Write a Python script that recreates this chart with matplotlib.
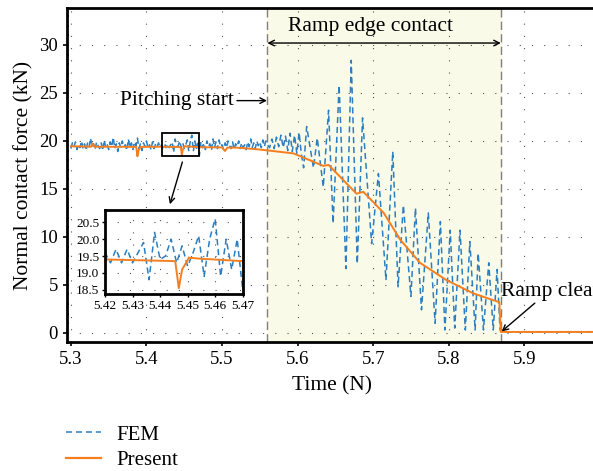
import numpy as np
import matplotlib
matplotlib.use("Agg")
import matplotlib.pyplot as plt
from matplotlib.patches import Rectangle
from matplotlib.lines import Line2D

plt.rcParams['font.family'] = ['Liberation Serif', 'DejaVu Serif']

# FEM signal before the ramp: samples every 0.002 s from 5.300 to 5.560
fem_flat_start = 5.300
fem_flat_step = 0.002
fem_flat_v = [
    19.2, 19.8, 19.4, 19.9, 19.1, 19.6, 19.3, 20.0, 19.2, 19.7,
    19.0, 19.8, 19.4, 20.3, 19.3, 19.7, 19.1, 19.9, 19.5, 19.2,
    19.8, 19.0, 20.1, 19.3, 19.6, 19.1, 19.9, 19.4, 20.4, 19.2,
    19.7, 18.9, 19.8, 19.3, 20.0, 19.4, 19.6, 19.0, 20.2, 19.3,
    19.8, 19.1, 19.9, 19.5, 20.3, 19.2, 19.7, 19.0, 19.8, 19.4,
    20.0, 19.3, 19.6, 19.1, 19.9, 19.2, 19.7, 19.4, 19.8, 19.3,
    19.6, 19.3, 19.7, 19.3, 19.7, 19.3, 19.6, 19.9, 18.8, 20.2,
    19.4, 19.5, 20.0, 19.3, 19.8, 19.2, 19.6, 20.1, 18.9, 20.0,
    20.6, 18.9, 20.0, 19.1, 20.0, 18.5,
    19.9, 19.3, 19.8, 19.1, 20.0, 19.4, 19.7, 19.0, 20.2, 19.3,
    19.9, 19.2, 20.1, 19.4, 19.6, 19.1, 19.8, 19.3, 20.0, 19.5,
    19.2, 19.9, 19.1, 19.7, 19.4, 20.0, 19.2, 19.8, 19.3, 19.6,
    19.1, 19.9, 19.4, 20.2, 19.3, 19.8, 19.2, 20.0, 19.5, 19.9,
    19.3, 20.1, 19.4, 20.0, 19.6,
]

# FEM peaks / troughs during ramp edge contact
fem_ramp_t = [5.563, 5.566, 5.569, 5.572, 5.575, 5.578, 5.581, 5.584, 5.587, 5.590,
              5.593, 5.596, 5.599, 5.602, 5.605, 5.608, 5.612, 5.621, 5.626, 5.634,
              5.641, 5.647, 5.655, 5.664, 5.671, 5.679, 5.686, 5.698, 5.707, 5.717,
              5.726, 5.733, 5.740, 5.750, 5.756, 5.764, 5.773, 5.782, 5.789, 5.795,
              5.802, 5.808, 5.815, 5.822, 5.828, 5.835, 5.839, 5.846, 5.853, 5.859,
              5.864, 5.868, 5.870, 5.990]
fem_ramp_v = [19.3, 20.2, 19.2, 20.4, 19.4, 20.6, 19.3, 20.5, 19.0, 20.8,
              18.9, 20.6, 18.7, 20.9, 18.6, 17.2, 21.5, 17.2, 20.3, 15.2,
              23.2, 11.4, 25.8, 6.7, 28.4, 7.2, 22.4, 9.3, 16.6, 5.5,
              18.9, 4.8, 13.3, 3.8, 13.0, 2.4, 12.5, 1.0, 11.6, 0.3,
              10.7, 0.5, 10.7, 0.3, 9.5, 0.3, 8.3, 0.3, 7.3, 0.3,
              6.6, 0.3, 0.1, 0.1]

# Present model
present_t = [5.300, 5.327, 5.328, 5.331, 5.3865, 5.388, 5.3895, 5.392, 5.420, 5.4455,
             5.4468, 5.448, 5.4505, 5.455, 5.470, 5.500, 5.504, 5.507, 5.520, 5.5505,
             5.5946, 5.634, 5.641, 5.678, 5.687, 5.714, 5.736, 5.762, 5.797, 5.833,
             5.867, 5.869, 5.990]
present_v = [19.45, 19.4, 19.75, 19.4, 19.38, 18.4, 19.0, 19.38, 19.4, 19.35,
             18.55, 19.1, 19.45, 19.42, 19.35, 19.32, 18.95, 19.3, 19.3, 19.1,
             18.7, 17.4, 17.5, 14.5, 14.7, 12.5, 9.7, 7.3, 5.5, 4.1,
             3.2, 0.1, 0.1]

ramp_start = 5.56
ramp_end = 5.869

fem_t = list(fem_flat_start + fem_flat_step * np.arange(len(fem_flat_v))) + fem_ramp_t
fem_v = fem_flat_v + fem_ramp_v

blue = '#2b7fc1'
orange = '#f57f20'
dash = (0, (4, 2.5))
grid_kw = dict(color='#555555', linestyle=(0, (1, 10)), linewidth=0.8)

fig = plt.figure(figsize=(5.93, 4.71), dpi=100)
W, H = 593, 471
ax = fig.add_axes([67 / W, 1 - 342 / H, 530 / W, 334 / H])

ax.axvspan(ramp_start, ramp_end, color='#fafae9', zorder=0)
ax.axvline(ramp_start, color='#808080', linestyle=(0, (6, 3)), linewidth=1, zorder=1)
ax.axvline(ramp_end, color='#808080', linestyle=(0, (6, 3)), linewidth=1, zorder=1)

ax.plot(fem_t, fem_v, color=blue, linestyle=dash, linewidth=1.1, zorder=3)
ax.plot(present_t, present_v, color=orange, linewidth=1.4, zorder=4)

ax.set_xlim(5.2948, 5.3 + (597 - 70.6) / 756)
ax.set_ylim(-0.95, 33.85)
ax.set_xticks([5.3, 5.4, 5.5, 5.6, 5.7, 5.8, 5.9])
ax.set_yticks([0, 5, 10, 15, 20, 25, 30])
ax.set_yticks(np.arange(0, 34, 1), minor=True)
ax.grid(True, **grid_kw)
ax.set_axisbelow(True)
ax.tick_params(axis='both', which='major', labelsize=13.5, direction='out', length=3, width=1.2)
ax.tick_params(axis='y', which='minor', direction='in', length=1.5, width=1.2)
for side in ['left', 'bottom', 'top']:
    ax.spines[side].set_linewidth(2)
ax.spines['right'].set_visible(False)

ax.set_xlabel('Time (N)', fontsize=15.5, labelpad=6)
ax.set_ylabel('Normal contact force (kN)', fontsize=15.5, labelpad=4)

# annotations
arrow_kw = dict(arrowstyle='->', color='black', lw=1, shrinkA=0, shrinkB=0)
ax.annotate('', xy=(ramp_start, 30.2), xytext=(ramp_end, 30.2),
            arrowprops=dict(arrowstyle='<->', color='black', lw=1, shrinkA=0, shrinkB=0))
ax.text(5.697, 31.9, 'Ramp edge contact', fontsize=15.5, ha='center', va='center')
ax.annotate('', xy=(5.5595, 24.2), xytext=(5.5197, 24.2), arrowprops=arrow_kw)
ax.text(5.5152, 24.2, 'Pitching start', fontsize=15.5, ha='right', va='center')
ax.annotate('', xy=(5.870, 0.14), xytext=(5.914, 3.1), arrowprops=arrow_kw)
ax.text(5.869, 4.3, 'Ramp clear', fontsize=15.5, ha='left', va='center')

ax.add_patch(Rectangle((5.42, 18.4), 0.05, 2.4, fill=False, edgecolor='black', linewidth=1.3, zorder=5))
ax.annotate('', xy=(5.431, 13.4), xytext=(5.4475, 17.8), arrowprops=arrow_kw)

# inset
ins = fig.add_axes([105 / W, 1 - 294.3 / H, 137.7 / W, 84.3 / H])
ins.plot(fem_t, fem_v, color=blue, linestyle=dash, linewidth=1.1)
ins.plot(present_t, present_v, color=orange, linewidth=1.4)
ins.set_xlim(5.42, 5.47)
ins.set_ylim(18.37, 20.86)
ins.set_xticks([5.42, 5.43, 5.44, 5.45, 5.46, 5.47])
ins.set_xticklabels(['5.42', '5.43', '5.44', '5.45', '5.46', '5.47'])
ins.set_yticks([18.5, 19.0, 19.5, 20.0, 20.5])
ins.set_yticklabels(['18.5', '19.0', '19.5', '20.0', '20.5'])
ins.grid(True, **grid_kw)
ins.tick_params(labelsize=9.5, length=2, width=1, pad=2)
for s in ins.spines.values():
    s.set_linewidth(2)

# legend below the plot
handles = [Line2D([], [], color=blue, linestyle=dash, linewidth=1.1),
           Line2D([], [], color=orange, linewidth=1.6)]
fig.legend(handles, ['FEM', 'Present'], loc='upper left', bbox_to_anchor=(66 / W, 1 - 425 / H),
           frameon=False, fontsize=15, handlelength=1.7, handletextpad=0.7,
           borderpad=0, borderaxespad=0, labelspacing=0.3)

fig.savefig('out.png', dpi=100)
